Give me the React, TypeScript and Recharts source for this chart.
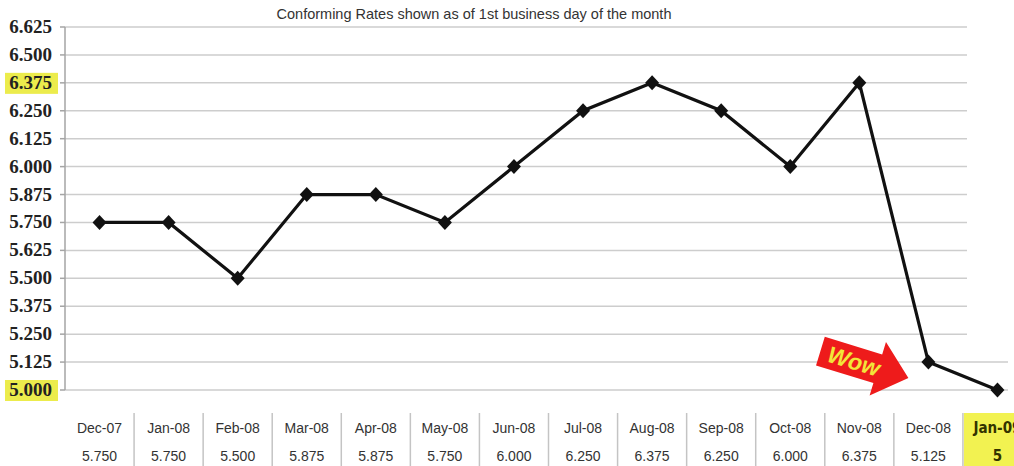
import React from 'react';
import { LineChart, Line, XAxis, YAxis, CartesianGrid, ReferenceDot } from 'recharts';

const months = ['Dec-07', 'Jan-08', 'Feb-08', 'Mar-08', 'Apr-08', 'May-08', 'Jun-08', 'Jul-08', 'Aug-08', 'Sep-08', 'Oct-08', 'Nov-08', 'Dec-08', 'Jan-09'];
const rates = [5.75, 5.75, 5.5, 5.875, 5.875, 5.75, 6.0, 6.25, 6.375, 6.25, 6.0, 6.375, 5.125, 5.0];
const rateLabels = ['5.750', '5.750', '5.500', '5.875', '5.875', '5.750', '6.000', '6.250', '6.375', '6.250', '6.000', '6.375', '5.125', '5'];
const yTicks = [5.0, 5.125, 5.25, 5.375, 5.5, 5.625, 5.75, 5.875, 6.0, 6.125, 6.25, 6.375, 6.5, 6.625];
const highlightTicks = ['6.375', '5.000'];

const data = months.map((m, i) => ({ month: m, rate: rates[i] }));

const CHART_W = 1032;
const Y_AXIS_W = 65;
const BAND = (CHART_W - Y_AXIS_W) / months.length;

const YTick = ({ x, y, payload }: any) => {
  const label = Number(payload.value).toFixed(3);
  const hl = highlightTicks.includes(label);
  return (
    <g>
      {hl && <rect x={x - 47} y={y - 10} width={53} height={21} fill="#ecec4c" />}
      <text x={x} y={y + 6} textAnchor="end" fontFamily="'Liberation Serif', 'Times New Roman', serif" fontWeight="bold" fontSize={19} fill="#222">
        {label}
      </text>
    </g>
  );
};

const TableTick = ({ x, y, payload }: any) => {
  const i = payload.index;
  const last = i === months.length - 1;
  const font = last ? "'Liberation Sans Narrow', 'DejaVu Sans Condensed', sans-serif" : "'Liberation Sans', Arial, sans-serif";
  return (
    <g>
      {last && <rect x={x - BAND / 2 + 1} y={y + 23} width={BAND} height={60} fill="#f2f251" />}
      {i < months.length - 1 && (
        <line x1={x + BAND / 2} x2={x + BAND / 2} y1={y + 23} y2={y + 80} stroke="#c4c4c4" strokeWidth={1.5} />
      )}
      <text x={x} y={y + 43} textAnchor="middle" fontFamily={font}
        fontWeight={last ? 'bold' : 'normal'} fontSize={last ? 15 : 14} fill={last ? '#333300' : '#333'}>
        {payload.value}
      </text>
      <text x={x} y={y + 71} textAnchor="middle" fontFamily={font}
        fontWeight={last ? 'bold' : 'normal'} fontSize={last ? 15 : 14} fill={last ? '#333300' : '#333'}>
        {rateLabels[i]}
      </text>
    </g>
  );
};

const Diamond = ({ cx, cy }: any) => {
  if (cx == null || cy == null) return null;
  return <polygon points={`${cx},${cy - 7.5} ${cx + 7},${cy} ${cx},${cy + 7.5} ${cx - 7},${cy}`} fill="#111" />;
};

// horizontal grid lines stop short of the last column except the two lowest
const GridLine = (props: any) => {
  const { x1, x2, y1, y2 } = props;
  const end = y1 > 350 ? 1008 : 967;
  return <line key={`g-${y1}`} x1={x1} x2={Math.min(x2, end)} y1={y1} y2={y2} stroke="#cdcdcd" strokeWidth={1.5} />;
};

const WowArrow = ({ cx, cy }: any) => {
  if (cx == null || cy == null) return null;
  return (
    <g transform={`translate(${cx - 20},${cy + 16}) rotate(17) translate(-92,0)`}>
      <polygon points="0,-15 60,-15 60,-28 92,0 60,28 60,15 0,15" fill="#ee1b1b" />
      <text x={35} y={8} textAnchor="middle" fontFamily="'Liberation Sans', Arial, sans-serif" fontWeight="bold" fontStyle="italic" fontSize={23} fill="#f3e53a">
        Wow
      </text>
    </g>
  );
};

export default function App() {
  return (
    <div style={{ position: 'absolute', left: 0, top: 0, width: 1014, height: 466, overflow: 'hidden', background: '#fff' }}>
      <div style={{ position: 'absolute', left: 0, width: 948, top: 6, textAlign: 'center', fontFamily: "'Liberation Sans', Arial, sans-serif", fontSize: 14.5, color: '#333' }}>
        Conforming Rates shown as of 1st business day of the month
      </div>
      <LineChart width={CHART_W} height={466} data={data} margin={{ top: 27, right: 0, bottom: 0, left: 0 }}>
        <CartesianGrid vertical={false} horizontal={GridLine} />
        <XAxis dataKey="month" interval={0} tickLine={false} axisLine={false} tickSize={0} tickMargin={0} height={76}
          padding={{ left: BAND / 2, right: BAND / 2 }} tick={<TableTick />} />
        <YAxis width={Y_AXIS_W} domain={[5, 6.625]} ticks={yTicks} interval={0} tickSize={5} tickMargin={8}
          axisLine={{ stroke: '#a5a5a5', strokeWidth: 1.5 }} tickLine={{ stroke: '#a5a5a5', strokeWidth: 1.5 }} tick={<YTick />} />
        <ReferenceDot x="Dec-08" y={5.125} r={0} shape={<WowArrow />} />
        <Line type="linear" dataKey="rate" stroke="#111" strokeWidth={3.2} dot={<Diamond />} activeDot={false} isAnimationActive={false} />
      </LineChart>
    </div>
  );
}
